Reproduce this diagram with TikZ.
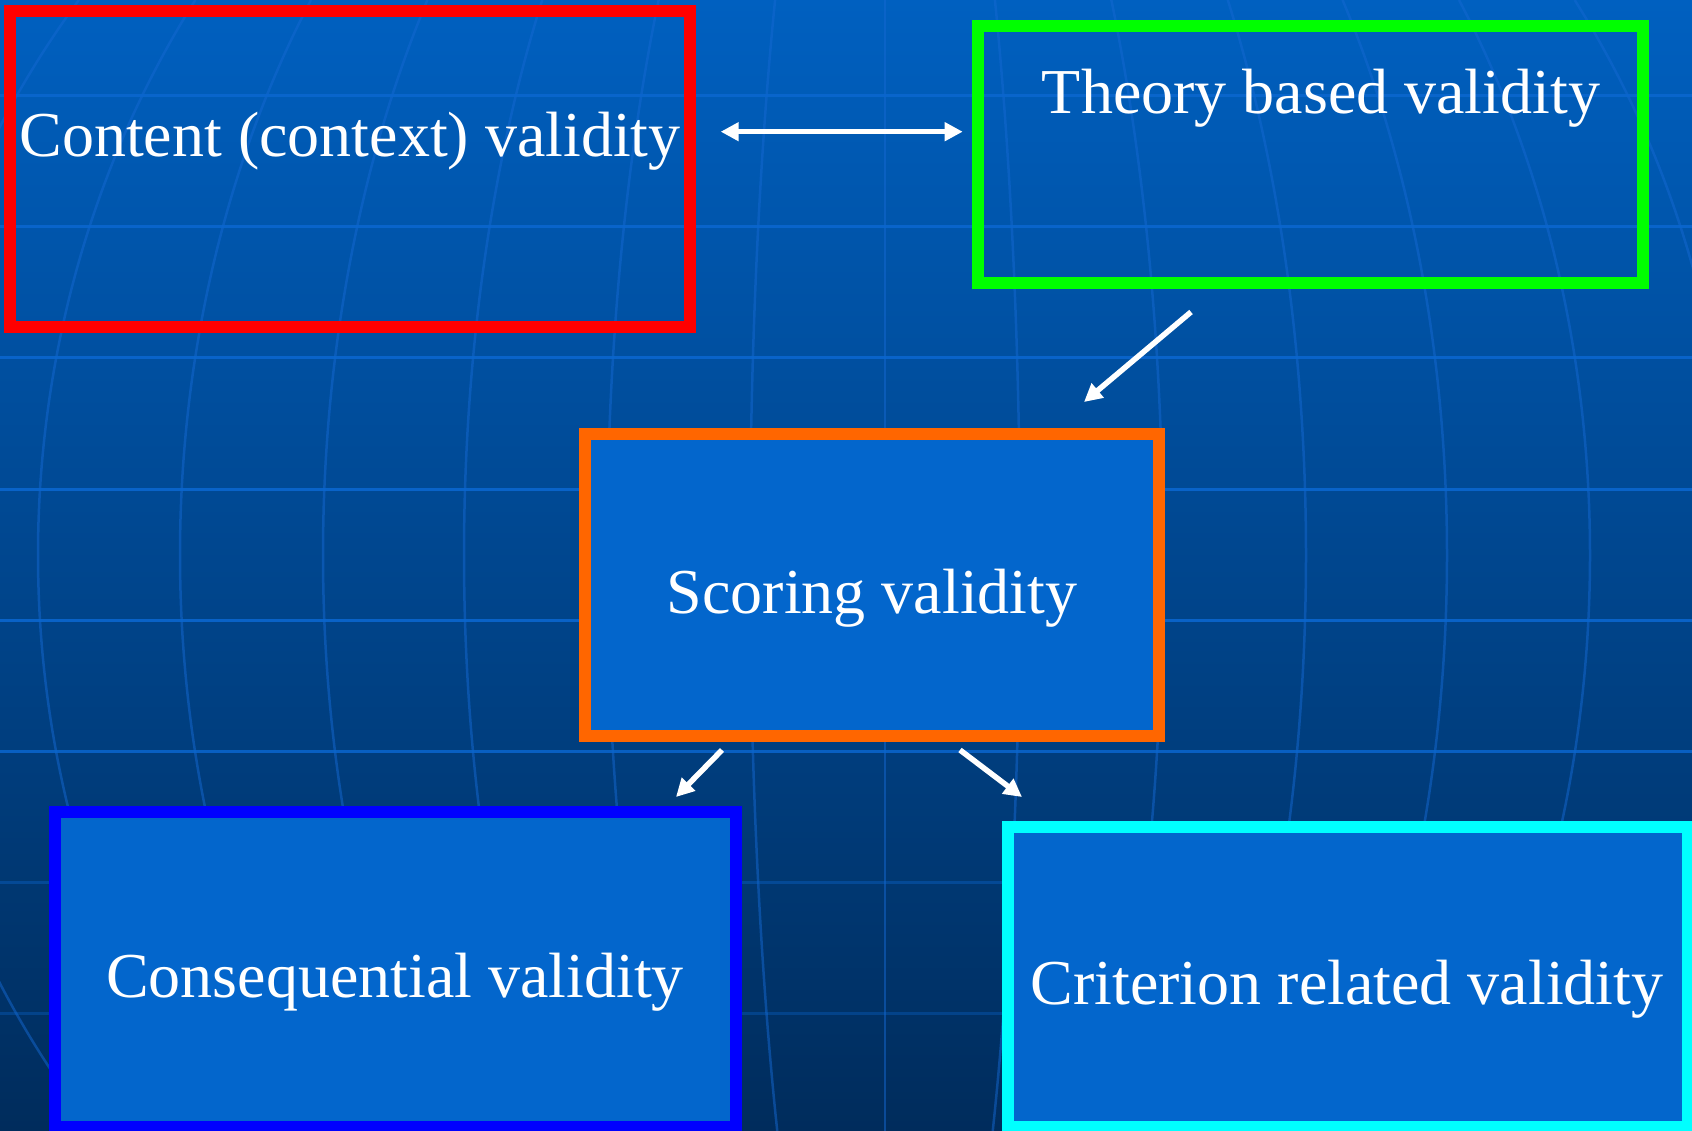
\documentclass[tikz,border=0pt]{standalone}
\usepackage{fontspec}
\setmainfont{Liberation Serif}
\usetikzlibrary{arrows.meta}
\definecolor{bgtop}{RGB}{0,96,192}
\definecolor{bgmid}{RGB}{0,74,148}
\definecolor{bgbot}{RGB}{0,44,92}
\definecolor{boxfill}{RGB}{3,102,204}
\definecolor{gridh}{RGB}{10,102,206}
\definecolor{meridcol}{RGB}{20,104,210}
\definecolor{orangeb}{RGB}{255,102,0}
\definecolor{greenb}{RGB}{0,255,0}
\definecolor{blueb}{RGB}{0,0,255}
\definecolor{cyanb}{RGB}{0,255,255}
\definecolor{redb}{RGB}{255,0,0}
\begin{document}
\begin{tikzpicture}[x=1pt,y=-1pt,
  vbox/.style={line width=12pt, inner sep=0pt, outer sep=0pt, anchor=center},
  filledbox/.style={vbox, fill=boxfill},
  txt/.style={text=white, font=\fontsize{64}{72}\selectfont, anchor=base, inner sep=0pt},
  arr/.style={draw=white, line width=5.5pt, -{Triangle[length=18pt,width=18pt]}},
  darr/.style={draw=white, line width=5.5pt, {Triangle[length=18pt,width=18pt]}-{Triangle[length=18pt,width=18pt]}},
]
\useasboundingbox (0,0) rectangle (1692,1131);
\clip (0,0) rectangle (1692,1131);
% background
\shade[top color=bgtop, middle color=bgmid, bottom color=bgbot] (0,0) rectangle (1692,1131);
% meridians
\foreach \k in {-990,-847,-705,-562,-421,-278,-135,0,135,278,421,562,705,847}
  \draw[draw=meridcol, opacity=0.5, line width=2.5pt]
    plot[domain=0:1131, samples=60, smooth] ({885+\k*sqrt(1-((\x-555)/956)^2)}, \x);
% horizontal grid lines
\foreach \yy/\op in {96/0.9,227/0.9,358/0.9,489/0.9,620/0.9,751/0.85,882/0.4,1013/0.35}
  \draw[draw=gridh, opacity=\op, line width=3pt] (0,\yy) -- (1692,\yy);

% boxes
\node[vbox, draw=redb, minimum width=680pt, minimum height=316.5pt] (content) at (350,169.25) {};
\node[vbox, draw=greenb, minimum width=665pt, minimum height=257pt] (theory) at (1310.5,154.5) {};
\node[filledbox, draw=orangeb, minimum width=574pt, minimum height=302pt] (scoring) at (872,585) {};
\node[filledbox, draw=blueb, minimum width=681pt, minimum height=315pt] (conseq) at (395.5,969.5) {};
\node[filledbox, draw=cyanb, minimum width=680pt, minimum height=300pt] (criterion) at (1348,977) {};

% texts
\node[txt] (contentT) at (350,157) {Content (context) validity};
\node[txt] (theoryT) at (1321,114) {Theory based validity};
\node[txt] (scoringT) at (872,613) {Scoring validity};
\node[txt] (conseqT) at (395,997) {Consequential validity};
\node[txt] (criterionT) at (1347,1004) {Criterion related validity};

% arrows
\coordinate (d1) at (720.7,131.7);
\coordinate (d2) at (962.7,131.7);
\coordinate (g1) at (1191,312);
\coordinate (s1) at (1084,402);
\coordinate (s2) at (722,750);
\coordinate (b1) at (676,797);
\coordinate (s3) at (960,750);
\coordinate (c1) at (1022,797);
\draw[darr] (d1) -- (d2);
\draw[arr] (g1) -- (s1);
\draw[arr] (s2) -- (b1);
\draw[arr] (s3) -- (c1);
\end{tikzpicture}
\end{document}
